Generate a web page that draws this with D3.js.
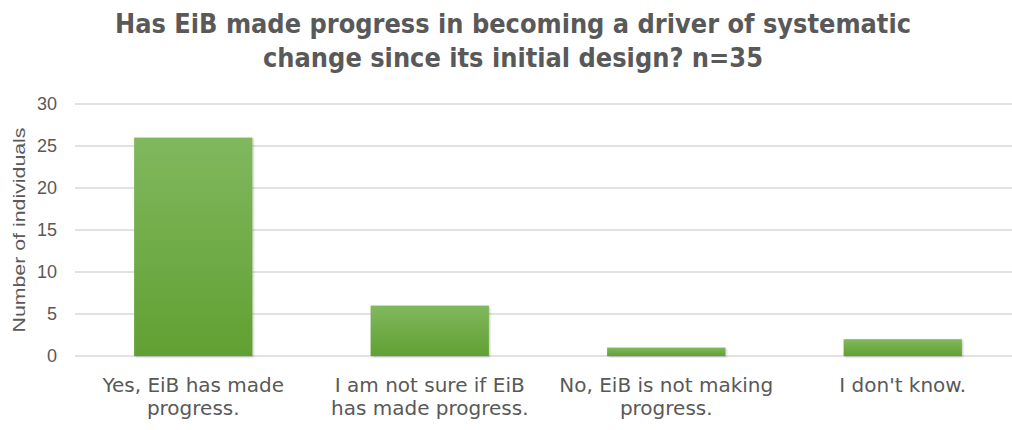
<!DOCTYPE html>
<html>
<head>
<meta charset="utf-8">
<script src="https://cdn.jsdelivr.net/npm/d3@7"></script>
<style>
  body { margin: 0; background: #fff; }
  svg { display: block; }
</style>
</head>
<body>
<div id="chart"></div>
<script>
const categories = [
  ['Yes, EiB has made', 'progress.'],
  ['I am not sure if EiB', 'has made progress.'],
  ['No, EiB is not making', 'progress.'],
  ["I don't know."]
]
const counts = [26, 6, 1, 2]
const yTicks = [0, 5, 10, 15, 20, 25, 30]
const titleLines = [
  'Has EiB made progress in becoming a driver of systematic',
  'change since its initial design? n=35'
]

const width = 1012
const height = 430
const margin = { top: 104, right: -9, bottom: 74, left: 75 }
const innerW = width - margin.left - margin.right
const innerH = height - margin.top - margin.bottom

const svg = d3
  .select('#chart')
  .append('svg')
  .attr('width', width)
  .attr('height', height)

const defs = svg.append('defs')
const grad = defs
  .append('linearGradient')
  .attr('id', 'barGrad')
  .attr('x1', 0).attr('y1', 0).attr('x2', 0).attr('y2', 1)
grad.append('stop').attr('offset', '0%').attr('stop-color', '#80b85e')
grad.append('stop').attr('offset', '100%').attr('stop-color', '#61a032')

const shadow = defs.append('filter').attr('id', 'shadow')
  .attr('x', '-10%').attr('y', '-10%').attr('width', '130%').attr('height', '130%')
shadow.append('feDropShadow')
  .attr('dx', 1).attr('dy', 1).attr('stdDeviation', 1.2)
  .attr('flood-color', '#000').attr('flood-opacity', 0.25)

const g = svg.append('g').attr('transform', `translate(${margin.left},${margin.top})`)

const x = d3
  .scaleBand()
  .domain(d3.range(categories.length))
  .range([0, innerW])
  .paddingInner(0.5)
  .paddingOuter(0.25)

const y = d3.scaleLinear().domain([0, 30]).range([innerH, 0])

// gridlines
g.append('g')
  .selectAll('line')
  .data(yTicks)
  .enter()
  .append('line')
  .attr('x1', 0)
  .attr('x2', width)
  .attr('y1', d => y(d))
  .attr('y2', d => y(d))
  .attr('stroke', '#d9d9d9')
  .attr('stroke-width', 1.5)

// y tick labels
g.append('g')
  .selectAll('text')
  .data(yTicks)
  .enter()
  .append('text')
  .attr('x', -18)
  .attr('y', d => y(d))
  .attr('dy', '0.35em')
  .attr('text-anchor', 'end')
  .attr('font-family', 'Liberation Sans')
  .attr('font-size', 18)
  .attr('fill', '#595959')
  .text(d => d)

// bars
g.append('g')
  .selectAll('rect')
  .data(counts)
  .enter()
  .append('rect')
  .attr('x', (d, i) => x(i))
  .attr('width', x.bandwidth())
  .attr('y', d => y(d))
  .attr('height', d => innerH - y(d))
  .attr('fill', 'url(#barGrad)')
  .attr('filter', 'url(#shadow)')

// category labels
const catLabels = g.append('g')
  .selectAll('text')
  .data(categories)
  .enter()
  .append('text')
  .attr('x', (d, i) => x(i) + x.bandwidth() / 2)
  .attr('y', innerH + 36)
  .attr('text-anchor', 'middle')
  .attr('font-family', 'DejaVu Sans')
  .attr('font-size', 20)
  .attr('fill', '#595959')

catLabels
  .selectAll('tspan')
  .data(d => d)
  .enter()
  .append('tspan')
  .attr('x', function () { return d3.select(this.parentNode).attr('x') })
  .attr('dy', (d, i) => (i === 0 ? 0 : 23))
  .text(d => d)

// y axis title
svg.append('text')
  .attr('transform', 'translate(25,230) rotate(-90)')
  .attr('text-anchor', 'middle')
  .attr('font-family', 'Liberation Sans')
  .attr('font-size', 17)
  .attr('fill', '#595959')
  .attr('textLength', 205)
  .attr('lengthAdjust', 'spacingAndGlyphs')
  .text('Number of individuals')

// title
svg.append('g')
  .selectAll('text')
  .data(titleLines)
  .enter()
  .append('text')
  .attr('x', 513)
  .attr('y', (d, i) => 33 + i * 34)
  .attr('text-anchor', 'middle')
  .attr('font-family', 'DejaVu Sans Condensed, DejaVu Sans')
  .attr('font-stretch', 'condensed')
  .attr('font-weight', 'bold')
  .attr('font-size', 27)
  .attr('fill', '#595959')
  .attr('textLength', (d, i) => (i === 0 ? 796 : 500))
  .attr('lengthAdjust', 'spacingAndGlyphs')
  .text(d => d)
</script>
</body>
</html>
